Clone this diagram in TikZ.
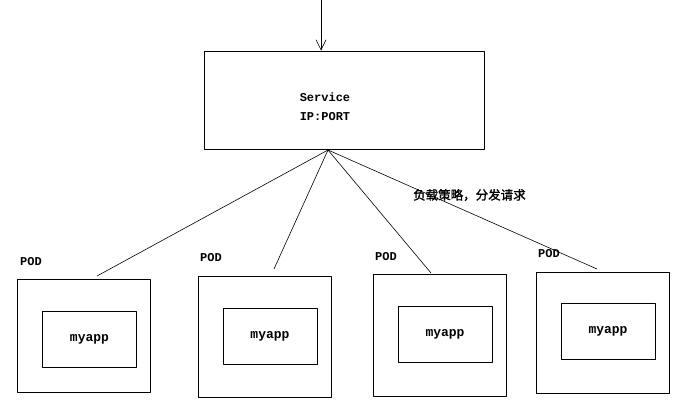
\documentclass[tikz,border=0pt]{standalone}
\usepackage{fontspec}
\usetikzlibrary{arrows.meta}
\newfontfamily\podfont{Liberation Mono}
\newfontfamily\cjk{Noto Sans CJK SC}[FakeBold=1.5]

\begin{document}
\begin{tikzpicture}[x=1pt, y=-1pt, >={Straight Barb[length=10pt,width=10pt]}, line join=round, font=\podfont\bfseries\fontsize{12}{19}\selectfont]
	\useasboundingbox (0,0) rectangle (689,402);
	% Service
	\node[draw, line width=1pt, minimum width=280pt, minimum height=98pt, inner sep=0pt] (svc) at (344,100) {};
	\node[align=center] (svctxt) at (325,107) {Service\\IP:PORT};
	\coordinate (top) at (321,0);
	\draw[->, line width=0.6pt] (top) -- (svc.north -| top);
	\coordinate (hub) at (328,150);
	% Pods: outer box, inner box, label, end of line
	\foreach \n/\ox/\oy/\oh/\ix/\iy/\lx/\ly/\ex/\ey in {
		1/84/335.5/113/89.5/339.5/20/262/97/276,
		2/265/336.5/121/270/336/200/258/274/269,
		3/439.5/335/122/445/334/375/257/431/273,
		4/602.5/332.5/121/608/331.5/538/254/597/269}
	{
		\node[draw, line width=1pt, minimum width=133pt, minimum height=\oh pt, inner sep=0pt] (pod\n) at (\ox,\oy) {};
		\node[draw, line width=1pt, minimum width=94pt, minimum height=56pt, inner sep=0pt, font=\podfont\bfseries\fontsize{13}{15}\selectfont] (app\n) at (\ix,\iy) {myapp};
		\node[anchor=west, inner sep=0pt] (lbl\n) at (\lx,\ly) {POD};
		\coordinate (end\n) at (\ex,\ey);
		\draw[line width=0.6pt] (hub) -- (end\n);
	}
	% Label of the strategy
	\node[anchor=west, inner sep=0pt, font=\cjk\fontsize{12.5}{14}\selectfont] (rule) at (413,195) {负载策略，分发请求};
\end{tikzpicture}
\end{document}
